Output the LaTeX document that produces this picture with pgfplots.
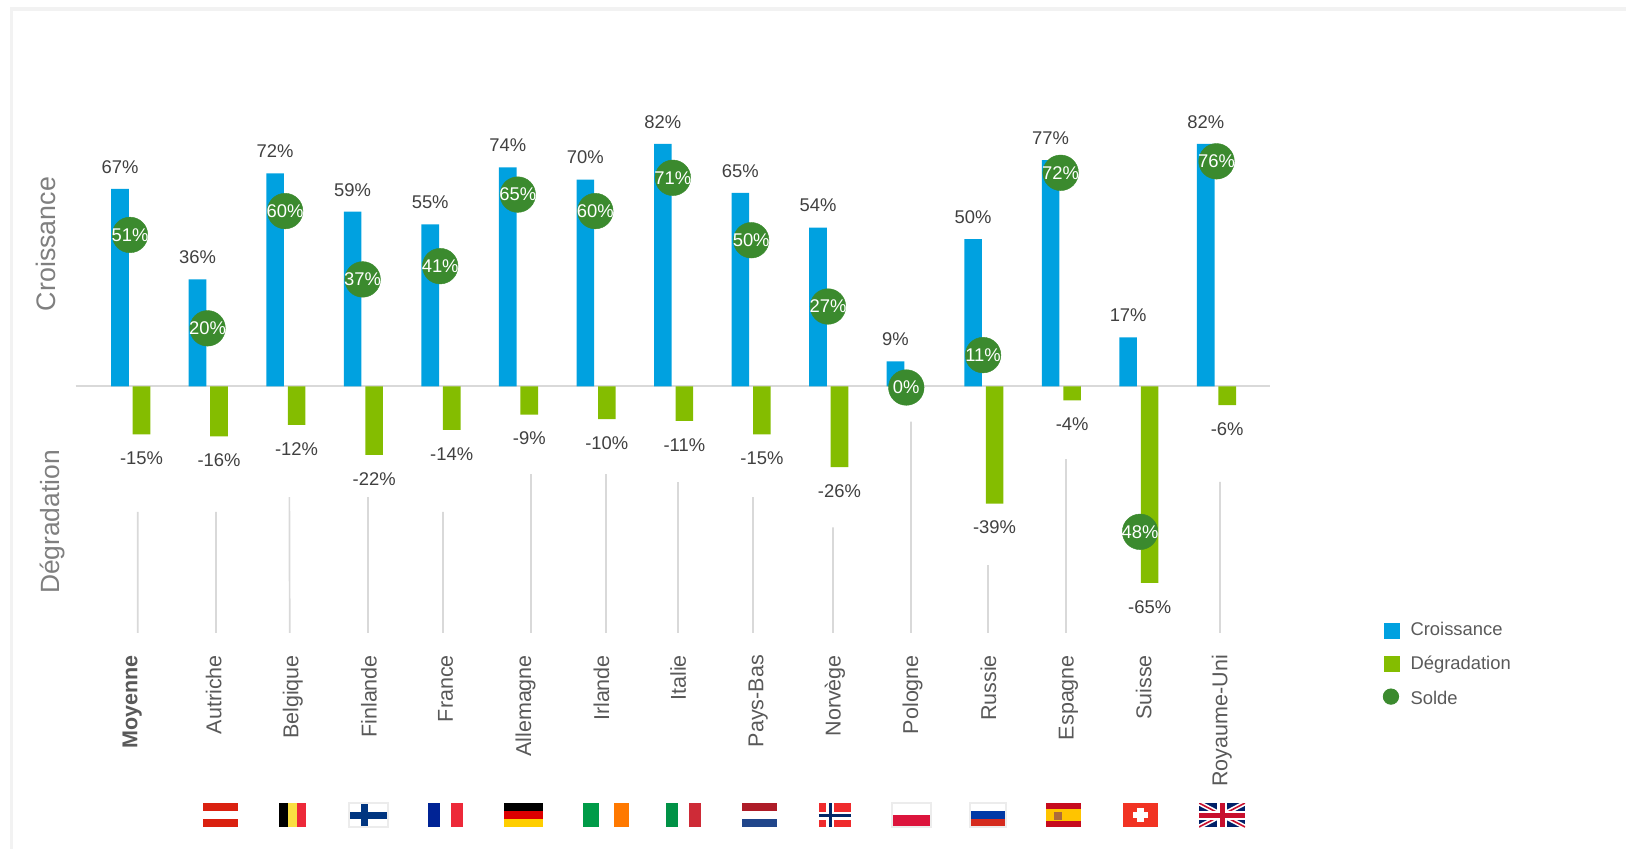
\documentclass[border=0pt]{standalone}
\usepackage{pgfplots}
\pgfplotsset{compat=1.18}
\usepackage{fontspec}
\setmainfont{Liberation Sans}
\definecolor{cblue}{HTML}{00A1E0}
\definecolor{cgreen}{HTML}{84BD00}
\definecolor{csolde}{HTML}{3B8A2E}
\definecolor{ctxt}{HTML}{404040}
\definecolor{clab}{HTML}{595959}
\definecolor{ctitle}{HTML}{7F7F7F}
\definecolor{cline}{HTML}{D9D9D9}
\definecolor{cframe}{HTML}{F2F2F2}
\definecolor{flagframe}{HTML}{ECECEC}
\definecolor{fAT}{HTML}{DA2110}
\definecolor{fBEy}{HTML}{FAE042}
\definecolor{fRed}{HTML}{ED2939}
\definecolor{fFI}{HTML}{003580}
\definecolor{fFR}{HTML}{002395}
\definecolor{fDEr}{HTML}{DD0000}
\definecolor{fDEy}{HTML}{FFCE00}
\definecolor{fIEg}{HTML}{009B48}
\definecolor{fIEo}{HTML}{FF7900}
\definecolor{fITg}{HTML}{009246}
\definecolor{fITr}{HTML}{CE2B37}
\definecolor{fNLr}{HTML}{AE1C28}
\definecolor{fNLb}{HTML}{21468B}
\definecolor{fNOr}{HTML}{EF2B2D}
\definecolor{fNOb}{HTML}{002868}
\definecolor{fPL}{HTML}{DC143C}
\definecolor{fRUb}{HTML}{0039A6}
\definecolor{fRUr}{HTML}{D52B1E}
\definecolor{fESr}{HTML}{C60B1E}
\definecolor{fESy}{HTML}{FFC400}
\definecolor{fESe}{HTML}{AD6B3A}
\definecolor{fCH}{HTML}{F13323}
\definecolor{fUKb}{HTML}{012169}
\definecolor{fUKr}{HTML}{C8102E}
\newcommand\R[5]{\fill[#5] (#1,#2) rectangle (#3,#4);}
\begin{document}
\begin{tikzpicture}[x=0.5pt,y=-0.5pt]
\path[use as bounding box] (0,0) rectangle (1626,849);
\fill[cframe] (9.5,7) rectangle (1626,11);
\fill[cframe] (9.5,7) rectangle (12.5,849);
\begin{axis}[
  at={(37.85pt,-325.7pt)},anchor=south west,
  scale only axis,width=597.15pt,height=279.8pt,
  xmin=-0.7,xmax=14.7,ymin=-90,ymax=100,
  axis line style={draw=none},tick style={draw=none},
  clip=false,ybar,bar width=8.8pt,
  ytick=\empty,
  xtick={0.03,1.08,2.1,3.08,4.07,5.1,6.08,7.07,8.1,9.09,10.09,11.07,12.1,13.07,14.08},
  xticklabels={\textbf{Moyenne},Autriche,Belgique,Finlande,France,Allemagne,Irlande,Italie,Pays-Bas,Norvège,Pologne,Russie,Espagne,Suisse,Royaume-Uni},
  xticklabel style={rotate=90,anchor=east,text=clab,font=\fontsize{10.75pt}{12pt}\selectfont,inner sep=0pt,xshift=2.6pt},
  /pgf/number format/assume math mode=true,
  /pgf/number format/precision=0,
  legend cell align=left,
  legend style={at={(axis cs:16.15,-94.6)},anchor=west,draw=none,fill=none,inner sep=0pt,
    row sep=7.7pt,font=\fontsize{9.2pt}{11pt}\selectfont\color{clab},
    /tikz/every odd column/.append style={column sep=5.2pt},
    nodes={inner sep=0pt,text height=7pt,text depth=2pt}},
]
% zero line
\addplot[forget plot,sharp plot,cline,line width=1pt,no marks] coordinates {(-0.7,0) (14.7,0)};
% leader lines
\addplot[forget plot,sharp plot,cline,line width=0.85pt,no marks,unbounded coords=jump] coordinates {
 (0.10,-83.7) (0.10,-42.6) (0.5,nan)
 (1.108,-83.7) (1.108,-42.6) (1.5,nan)
 (2.06,-83.7) (2.055,-37.6) (2.5,nan)
 (3.068,-83.7) (3.068,-37.6) (3.5,nan)
 (4.035,-83.7) (4.035,-42.6) (4.5,nan)
 (5.17,-83.7) (5.17,-29.8) (5.5,nan)
 (6.138,-83.7) (6.138,-29.8) (6.5,nan)
 (7.065,-83.7) (7.065,-32.5) (7.5,nan)
 (8.033,-83.7) (8.033,-37.6) (8.5,nan)
 (9.065,-83.7) (9.065,-47.9) (9.5,nan)
 (10.07,-83.7) (10.07,-12) (10.5,nan)
 (11.064,-83.7) (11.064,-60.7) (11.5,nan)
 (12.07,-83.7) (12.07,-24.7) (12.5,nan)
 (14.055,-83.7) (14.055,-32.4)
};
% Croissance
\addplot[ybar,bar shift=-5pt,fill=cblue,draw=none,
  legend image code/.code={\fill[cblue] (0pt,-4pt) rectangle (8pt,4pt);},
  point meta=explicit,nodes near coords={\pgfmathprintnumber{\pgfplotspointmeta}\%},
  every node near coord/.append style={anchor=center,yshift=11pt,text=ctxt,inner sep=0pt,font=\fontsize{9.2pt}{11pt}\selectfont}]
coordinates {(0,67)[67] (1,36.3)[36] (2,72.3)[72] (3,59.3)[59] (4,55)[55] (5,74.3)[74] (6,70.2)[70] (7,82.3)[82] (8,65.7)[65] (9,53.9)[54] (10,8.5)[9] (11,50)[50] (12,76.8)[77] (13,16.6)[17] (14,82.3)[82]};
\addlegendentry{Croissance}
% Dégradation
\addplot[ybar,bar shift=5.75pt,fill=cgreen,draw=none,
  legend image code/.code={\fill[cgreen] (0pt,-4pt) rectangle (8pt,4pt);},
  point meta=explicit,nodes near coords={\pgfmathprintnumber{\pgfplotspointmeta}\%},
  every node near coord/.append style={anchor=center,yshift=-12pt,text=ctxt,inner sep=0pt,font=\fontsize{9.2pt}{11pt}\selectfont}]
coordinates {(0,-16.3)[-15] (1,-17)[-16] (2,-13.1)[-12] (3,-23.3)[-22] (4,-14.8)[-14] (5,-9.6)[-9] (6,-11.1)[-10] (7,-11.7)[-11] (8,-16.3)[-15] (9,-27.4)[-26] (11,-39.8)[-39] (12,-4.8)[-4] (13,-66.7)[-65] (14,-6.4)[-6]};
\addlegendentry{Dégradation}
% Solde
\addplot[only marks,color=csolde,mark=*,mark size=8.9pt,mark options={fill=csolde,draw=csolde,line width=0.2pt},
  legend image code/.code={\fill[csolde] (3.4pt,1.3pt) circle (3.85pt);},
  point meta=explicit,nodes near coords={\pgfmathprintnumber{\pgfplotspointmeta}\%},
  every node near coord/.append style={anchor=center,text=white,inner sep=0pt,font=\fontsize{9.2pt}{11pt}\selectfont}]
coordinates {(0,51.4)[51] (1,19.7)[20] (2,59.5)[60] (3,36.3)[37] (4,40.8)[41] (5,65.1)[65] (6,59.5)[60] (7,70.8)[71] (8.01,49.6)[50] (9,27.1)[27] (10.01,-0.4)[0] (11,10.6)[11] (12,72.5)[72] (13.025,-49.4)[48] (14.01,76.4)[76]};
\addlegendentry{Solde}
\end{axis}
% axis titles
\node[rotate=90,text=ctitle,inner sep=0pt,font=\fontsize{13.4pt}{15pt}\selectfont] at (46,244) {Croissance};
\node[rotate=90,text=ctitle,inner sep=0pt,font=\fontsize{13.2pt}{15pt}\selectfont] at (53,522) {Dégradation};
% flags
\R{203}{803}{238}{811}{fAT}
\R{203}{819}{238}{827}{fAT}
\R{279}{803}{288}{827}{black}\R{288}{803}{297}{827}{fBEy}\R{297}{803}{306}{827}{fRed}
\R{348}{802}{389}{828}{flagframe}\R{350}{804}{387}{826}{white}
\R{360.5}{804}{368}{826}{fFI}\R{350}{812}{387}{819}{fFI}
\R{428}{803}{440}{827}{fFR}\R{451}{803}{463}{827}{fRed}
\R{504}{803}{543}{811}{black}\R{504}{811}{543}{819}{fDEr}\R{504}{819}{543}{827}{fDEy}
\R{583}{803}{599}{827}{fIEg}\R{614}{803}{629}{827}{fIEo}
\R{666}{803}{678}{827}{fITg}\R{689}{803}{701}{827}{fITr}
\R{742}{803}{777}{811}{fNLr}\R{742}{819}{777}{827}{fNLb}
\R{819}{803}{851}{827}{fNOr}
\R{826}{803}{834}{827}{white}\R{819}{812}{851}{819.5}{white}
\R{828.5}{803}{832}{827}{fNOb}\R{819}{814.2}{851}{817.2}{fNOb}
\R{891}{802}{931.5}{828}{flagframe}\R{893}{804}{930}{815}{white}\R{893}{815}{930}{826}{fPL}
\R{969}{802}{1006.5}{828}{flagframe}\R{971}{804}{1005}{811}{white}\R{971}{811}{1005}{819}{fRUb}\R{971}{819}{1005}{826}{fRUr}
\R{1046}{803}{1081}{827}{fESr}\R{1046}{809}{1081}{821}{fESy}\R{1054}{812}{1062}{820}{fESe}
\R{1123}{803}{1158}{827}{fCH}\R{1137}{808}{1143.5}{822}{white}\R{1133}{812}{1148}{818}{white}
\begin{scope}
\clip (1199,803) rectangle (1245,827);
\fill[fUKb] (1199,803) rectangle (1245,827);
\draw[white,line width=2.4pt] (1199,803) -- (1245,827) (1199,827) -- (1245,803);
\draw[fUKr,line width=0.8pt] (1199,803) -- (1245,827) (1199,827) -- (1245,803);
\fill[white] (1217,803) rectangle (1227,827);\fill[white] (1199,810.5) rectangle (1245,819.5);
\fill[fUKr] (1219.5,803) rectangle (1224.5,827);\fill[fUKr] (1199,812.5) rectangle (1245,817.5);
\end{scope}
\end{tikzpicture}
\end{document}
